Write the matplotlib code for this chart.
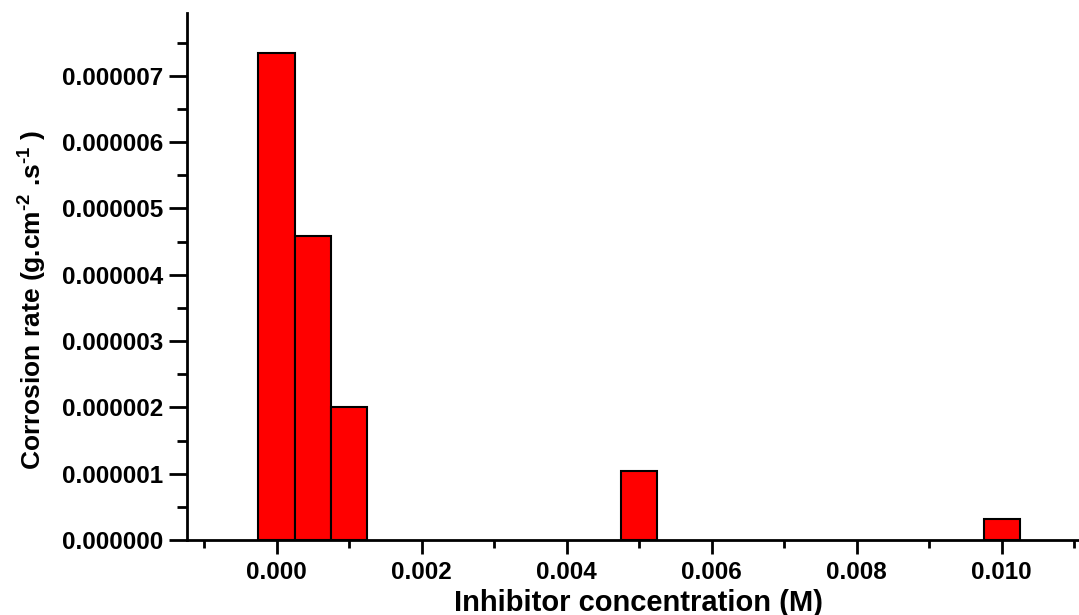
import matplotlib
matplotlib.use("Agg")
import matplotlib.pyplot as plt
from matplotlib.ticker import MultipleLocator, FormatStrFormatter

concentration = [0.0, 0.0005, 0.001, 0.005, 0.01]
corrosion_rate = [7.35e-6, 4.585e-6, 2.0e-6, 1.045e-6, 0.31e-6]
bar_width = 0.0005

plt.rcParams['font.family'] = ['Liberation Sans', 'DejaVu Sans']
plt.rcParams['font.weight'] = 'bold'
plt.rcParams['mathtext.fontset'] = 'custom'
plt.rcParams['mathtext.rm'] = 'Liberation Sans:bold'
plt.rcParams['mathtext.default'] = 'rm'

W, H = 1079, 615
fig = plt.figure(figsize=(W / 100, H / 100), dpi=100)
ax = fig.add_axes([0.173, 0.122, 0.826, 0.857])

ax.bar(concentration, corrosion_rate, width=bar_width, color='#ff0000',
       edgecolor='black', linewidth=1.5, align='center')

ax.set_xlim(-0.00124, 0.01105)
ax.set_ylim(0, 7.95e-6)

ax.spines['top'].set_visible(False)
ax.spines['right'].set_visible(False)
ax.spines['left'].set_linewidth(2)
ax.spines['bottom'].set_linewidth(2)

ax.xaxis.set_major_locator(MultipleLocator(0.002))
ax.xaxis.set_minor_locator(MultipleLocator(0.001))
ax.xaxis.set_major_formatter(FormatStrFormatter('%.3f'))
ax.yaxis.set_major_locator(MultipleLocator(1e-6))
ax.yaxis.set_minor_locator(MultipleLocator(5e-7))
ax.yaxis.set_major_formatter(FormatStrFormatter('%.6f'))

ax.tick_params(axis='x', which='major', length=10, width=2, direction='out', labelsize=17.5, pad=5)
ax.tick_params(axis='x', which='minor', length=6, width=2, direction='out')
ax.tick_params(axis='y', which='major', length=13, width=2, direction='out', labelsize=17.5, pad=4)
ax.tick_params(axis='y', which='minor', length=7, width=2, direction='out')
for lab in ax.get_xticklabels() + ax.get_yticklabels():
    lab.set_fontweight('bold')

ax.set_xlabel('Inhibitor concentration (M)', fontsize=21, fontweight='bold')
ax.set_ylabel(r'Corrosion rate (g.cm$^{\text{-2}}$ .s$^{\text{-1}}$ )', fontsize=19, fontweight='bold')

# label positions in axes coordinates from pixel targets
ax_left, ax_bottom, ax_w, ax_h = 0.173 * W, 0.122 * H, 0.826 * W, 0.857 * H
ax.xaxis.set_label_coords((639 - ax_left) / ax_w, ((H - 603) - ax_bottom) / ax_h)
ax.xaxis.label.set_va('center')
ax.yaxis.set_label_coords((33 - ax_left) / ax_w, ((H - 300) - ax_bottom) / ax_h)
ax.yaxis.label.set_va('center')

fig.savefig('out.png', dpi=100)
